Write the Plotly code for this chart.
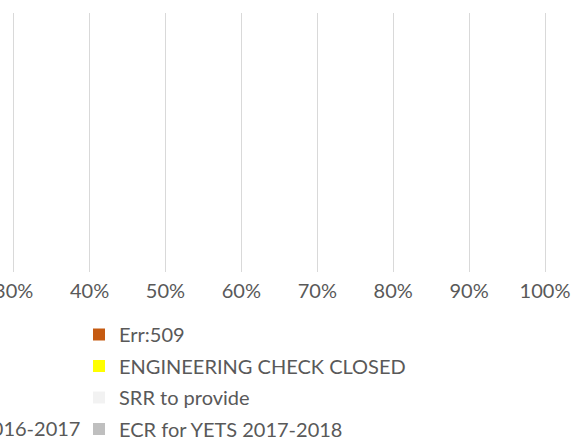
import plotly.graph_objects as go

# ============================================================
# Data (100% stacked bar, no visible bars in this view)
# ============================================================
categories = ["Status"]

series_names = [
    "Err:509",
    "ENGINEERING CHECK CLOSED",
    "SRR to provide",
    "ECR for YETS 2017-2018",
]
series_values = [
    [0],
    [0],
    [0],
    [0],
]
series_colors = ["#C55A11", "#FFFF00", "#F2F2F2", "#BFBFBF"]

left_name   = "ECR for YETS 2016-2017"
left_values = [0]
left_color  = "#A5A5A5"

tick_vals = [0.3, 0.4, 0.5, 0.6, 0.7, 0.8, 0.9, 1.0]

FONT = "Lato, 'Open Sans', sans-serif"
TXT  = "#595959"

# ============================================================
# Build figure
# ============================================================
fig = go.Figure()

fig.add_trace(go.Bar(
    y=categories, x=left_values, orientation="h",
    name=left_name, marker_color=left_color,
    legend="legend2", legendgroup="g0",
))

for i, (name, vals, col) in enumerate(zip(series_names, series_values, series_colors)):
    fig.add_trace(go.Bar(
        y=categories, x=vals, orientation="h",
        name=name, marker=dict(color=col, line=dict(width=0)),
        legend="legend", legendgroup=f"g{i + 1}",
    ))

fig.update_layout(
    barmode="stack",
    width=574, height=440,
    margin=dict(l=0, r=0, t=13, b=168, autoexpand=False),
    paper_bgcolor="white",
    plot_bgcolor="white",
    font=dict(family=FONT, size=20, color=TXT),
    showlegend=True,
    legend=dict(
        xref="container", yref="container",
        x=79 / 574, y=1 - 315 / 440,
        xanchor="left", yanchor="top",
        traceorder="grouped", tracegroupgap=2.5,
        font=dict(family=FONT, size=20, color=TXT),
        bgcolor="rgba(0,0,0,0)",
        itemwidth=30,
    ),
    legend2=dict(
        xref="container", yref="container",
        x=86 / 574, y=1 - 409 / 440,
        xanchor="right", yanchor="top",
        font=dict(family=FONT, size=20, color=TXT),
        bgcolor="rgba(0,0,0,0)",
        itemwidth=30,
    ),
)

fig.update_xaxes(
    range=[0.282, 1.0382],
    tickvals=tick_vals,
    tickformat=".0%",
    showgrid=True, gridcolor="#D9D9D9", gridwidth=1.3,
    zeroline=False, showline=False,
    ticks="", ticklabelstandoff=5,
    ticklabeloverflow="allow",
    tickfont=dict(family=FONT, size=20, color=TXT),
)
fig.update_yaxes(
    showticklabels=False, showgrid=False,
    zeroline=False, showline=False,
)

fig.write_html(
    "out.html",
    config={"displayModeBar": False},
    post_script="document.body.style.margin='0';document.body.style.overflow='hidden';",
)
